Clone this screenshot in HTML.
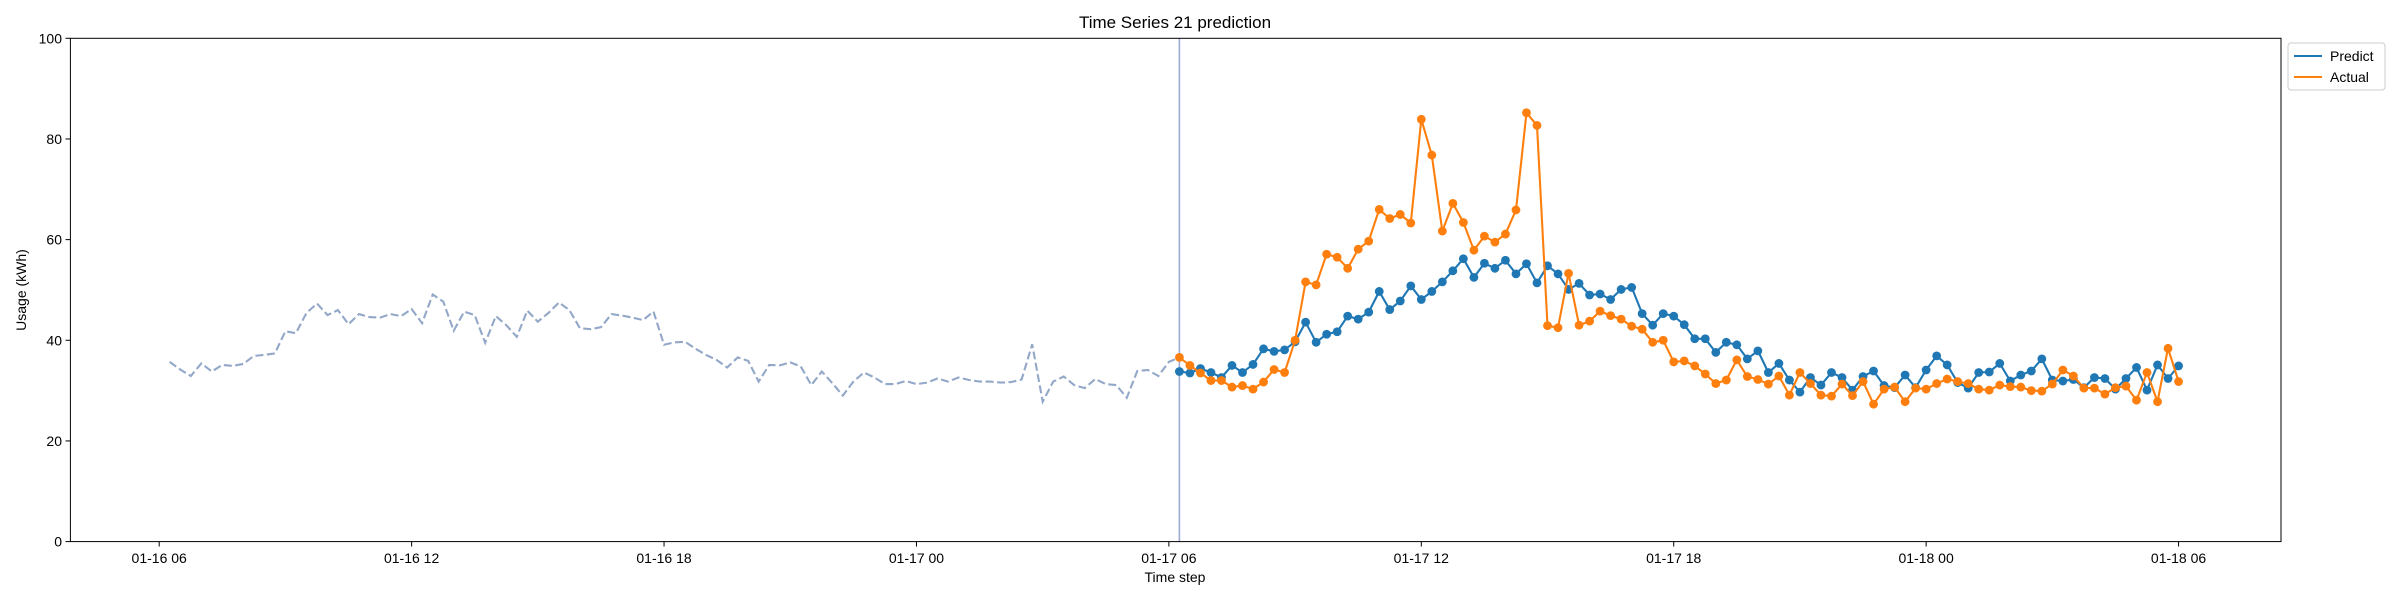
<!DOCTYPE html>
<html><head><meta charset="utf-8"><style>
html,body{margin:0;padding:0;background:#fff;}
svg{display:block;font-family:"Liberation Sans","DejaVu Sans",sans-serif;}
</style></head><body>
<svg id="chart" width="2400" height="600" viewBox="0 0 2400 600">
<rect x="0" y="0" width="2400" height="600" fill="#fff"/>
<text x="1175" y="28" text-anchor="middle" font-size="17" fill="#000">Time Series 21 prediction</text>
<g id="grid"></g>
<g id="series"></g>
<rect x="70.4" y="38.3" width="2210.6" height="503.3" fill="none" stroke="#000" stroke-width="1"/>
<g id="axes"></g>
<text x="1175" y="582" text-anchor="middle" font-size="14">Time step</text>
<text x="26" y="290" text-anchor="middle" font-size="14" transform="rotate(-90 26 290)">Usage (kWh)</text>
<g>
<rect x="2288" y="43" width="97" height="47" rx="3" fill="#fff" stroke="#ccc" stroke-width="1"/>
<g>
<line x1="2294" y1="56" x2="2322" y2="56" stroke="#1f77b4" stroke-width="2.1"/>
<text x="2330" y="61" font-size="14">Predict</text></g>
<g>
<line x1="2294" y1="77" x2="2322" y2="77" stroke="#ff7f0e" stroke-width="2.1"/>
<text x="2330" y="82" font-size="14">Actual</text></g>
</g>
</svg>
<script>
const historyValues=[35.7,34.2,32.9,35.4,33.8,35.1,34.9,35.3,36.9,37.1,37.4,41.8,41.4,45.4,47.3,45.0,46.0,43.2,45.2,44.6,44.5,45.2,44.8,46.2,43.4,49.1,47.7,41.9,45.7,45.0,39.5,44.8,43.0,40.7,45.9,43.7,45.4,47.5,46.0,42.4,42.2,42.6,45.2,44.9,44.5,44.0,45.7,39.1,39.6,39.7,38.3,37.1,36.1,34.6,36.6,35.9,31.8,35.1,35.0,35.6,34.8,31.1,33.8,31.5,29.0,31.8,33.6,32.6,31.3,31.3,31.9,31.3,31.6,32.4,31.8,32.6,32.1,31.8,31.8,31.6,31.7,32.2,39.2,27.8,31.8,32.8,31.1,30.5,32.3,31.3,31.1,28.6,33.9,34.1,32.9,35.7,36.6];
const predictValues=[33.8,33.5,34.4,33.6,32.6,35.0,33.6,35.2,38.3,37.8,38.1,39.7,43.6,39.6,41.2,41.7,44.8,44.2,45.6,49.7,46.1,47.8,50.8,48.1,49.7,51.6,53.8,56.2,52.5,55.3,54.3,55.9,53.2,55.2,51.4,54.8,53.2,50.1,51.3,49.0,49.2,48.1,50.1,50.5,45.3,43.0,45.3,44.8,43.1,40.3,40.3,37.6,39.6,39.1,36.3,37.9,33.6,35.4,32.1,29.7,32.6,31.1,33.6,32.6,30.1,32.8,33.9,31.0,30.6,33.1,30.6,34.1,36.9,35.1,31.6,30.5,33.6,33.7,35.4,31.9,33.1,33.9,36.3,32.1,31.9,32.2,30.6,32.6,32.4,30.3,32.4,34.6,30.1,35.1,32.4,34.9];
const actualValues=[36.6,35.0,33.5,32.0,32.0,30.7,31.0,30.3,31.7,34.2,33.6,40.0,51.6,51.0,57.1,56.5,54.3,58.1,59.7,66.0,64.2,65.0,63.3,83.9,76.8,61.7,67.2,63.4,57.9,60.7,59.5,61.1,65.9,85.2,82.7,42.9,42.5,53.3,43.0,43.8,45.8,44.9,44.2,42.8,42.2,39.6,40.0,35.7,35.9,34.9,33.3,31.4,32.1,36.1,32.8,32.2,31.3,32.9,29.1,33.6,31.4,29.1,28.9,31.3,29.0,31.8,27.3,30.3,30.7,27.8,30.5,30.3,31.4,32.3,31.8,31.4,30.3,30.1,31.1,30.8,30.7,30.0,29.9,31.3,34.1,32.9,30.5,30.5,29.3,30.6,30.9,28.1,33.6,27.8,38.4,31.8];
const xTickLabels=["01-16 06","01-16 12","01-16 18","01-17 00","01-17 06","01-17 12","01-17 18","01-18 00","01-18 06"];
const xTickHours=[0,6,12,18,24,30,36,42,48];
const yTicks=[0,20,40,60,80,100];
const historyStartHour=0.25, predStartHour=24.25, stepHours=0.25;

const NS="http://www.w3.org/2000/svg";
function xScale(h){return 159.2+h*42.07;}
function yScale(v){return 541.6-v*5.033;}
function mk(tag,attrs,parent){const e=document.createElementNS(NS,tag);for(const k in attrs)e.setAttribute(k,attrs[k]);parent.appendChild(e);return e;}
const axes=document.getElementById('axes'), series=document.getElementById('series');

xTickLabels.forEach((lab,i)=>{
  const x=xScale(xTickHours[i]);
  const t=mk('line',{x1:x,y1:541.6,x2:x,y2:546.5,stroke:'#000','stroke-width':1},axes);
  
  
  const tx=mk('text',{x:x,y:563,'text-anchor':'middle','font-size':14},axes);
  tx.textContent=lab;
  
  
});
yTicks.forEach(v=>{
  const y=yScale(v);
  const t=mk('line',{x1:65.5,y1:y,x2:70.4,y2:y,stroke:'#000','stroke-width':1},axes);
  
  
  const tx=mk('text',{x:62,y:y+5,'text-anchor':'end','font-size':14},axes);
  tx.textContent=v;
  
  
});

const hp=historyValues.map((v,i)=>xScale(historyStartHour+i*stepHours).toFixed(1)+','+yScale(v).toFixed(1)).join(' ');
const hl=mk('polyline',{points:hp,fill:'none',stroke:'#93a8c8','stroke-width':2.1,'stroke-dasharray':'8,3.5'},series);



const vx=xScale(predStartHour);
const vl=mk('line',{x1:vx,y1:38.3,x2:vx,y2:541.6,stroke:'#9aaad0','stroke-width':1.6},series);



function drawSeries(vals,color,name){
  const g=mk('g',{},series);
  
  
  const pts=vals.map((v,i)=>xScale(predStartHour+i*stepHours).toFixed(1)+','+yScale(v).toFixed(1)).join(' ');
  const l=mk('polyline',{points:pts,fill:'none',stroke:color,'stroke-width':2.1},g);
  
  
  vals.forEach((v,i)=>{
    const c=mk('circle',{cx:xScale(predStartHour+i*stepHours),cy:yScale(v),r:4.4,fill:color},g);
    
    
  });
}
drawSeries(predictValues,'#1f77b4','predict');
drawSeries(actualValues,'#ff7f0e','actual');
</script>
</body></html>
